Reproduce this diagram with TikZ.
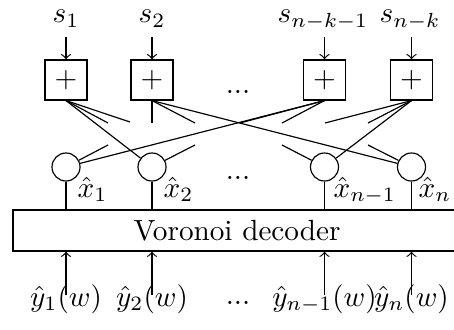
\documentclass[tikz,border=0pt]{standalone}
\begin{document}
\begin{tikzpicture}[x=0.3425pt,y=-0.3425pt,
  sumbox/.style={draw, minimum width=14.4pt, minimum height=13.7pt, inner sep=0pt},
  varnode/.style={draw, circle, minimum size=9.6pt, inner sep=0pt},
  decbox/.style={draw, minimum width=153.4pt, minimum height=14pt, inner sep=0pt},
  lab/.style={inner sep=0pt, anchor=base},
  xlab/.style={inner sep=0pt, anchor=base west},
  edge/.style={draw}]
\useasboundingbox (0,0) rectangle (454,329);

% check boxes
\node[sumbox] (b1) at (66,80) {$+$};
\node[sumbox] (b2) at (152,80) {$+$};
\node[sumbox] (b3) at (324.5,80) {$+$};
\node[sumbox] (b4) at (411.5,80) {$+$};
\node[lab] (dtop) at (238,93) {...};

% variable nodes
\node[varnode] (c1) at (66,167) {};
\node[varnode] (c2) at (152,167) {};
\node[varnode] (c3) at (324.5,167) {};
\node[varnode] (c4) at (411.5,167) {};
\node[lab] (dmid) at (238,179) {...};

% decoder
\node[decbox] (dec) at (237,230.5) {Voronoi decoder};

% top labels and arrows
\node[lab] (s1) at (66,23) {$s_1$};
\node[lab] (s2) at (152,23) {$s_2$};
\node[lab] (s3) at (323,23) {$s_{n-k-1}$};
\node[lab] (s4) at (410,23) {$s_{n-k}$};
\coordinate (t1) at (66,37);
\coordinate (t2) at (152,37);
\coordinate (t3) at (324.5,37);
\coordinate (t4) at (411.5,37);
\draw[->] (t1) -- (b1.north);
\draw[->] (t2) -- (b2.north);
\draw[->] (t3) -- (b3.north);
\draw[->] (t4) -- (b4.north);

% full edges
\draw (b1.south) -- (c2);
\draw (b2.south) -- (c4);
\draw (b3.south) -- (c1);
\draw (b4.south) -- (c3);

% stubs from boxes
\coordinate (p11) at (108,123);
\coordinate (p12) at (130,122);
\coordinate (p21) at (152,123);
\coordinate (p22) at (195,123);
\coordinate (p31) at (240,123);
\coordinate (p32) at (282,123);
\coordinate (p41) at (325,123);
\coordinate (p42) at (368,123);
\draw (b1.south) -- (p11);
\draw (b1.south) -- (p12);
\draw (b2.south) -- (p21);
\draw (b2.south) -- (p22);
\draw (b3.south) -- (p31);
\draw (b3.south) -- (p32);
\draw (b4.south) -- (p41);
\draw (b4.south) -- (p42);

% stubs from circles
\coordinate (q1) at (108,145);
\coordinate (q2) at (195,145);
\coordinate (q3) at (282,145);
\coordinate (q4) at (368,145);
\draw (c1) -- (q1);
\draw (c2) -- (q2);
\draw (c3) -- (q3);
\draw (c4) -- (q4);

% circles to decoder
\draw (c1.south) -- (c1.south |- dec.north);
\draw (c2.south) -- (c2.south |- dec.north);
\draw (c3.south) -- (c3.south |- dec.north);
\draw (c4.south) -- (c4.south |- dec.north);
\node[xlab] (x1) at (77,197) {$\hat{x}_1$};
\node[xlab] (x2) at (163,197) {$\hat{x}_2$};
\node[xlab] (x3) at (333,197) {$\hat{x}_{n-1}$};
\node[xlab] (x4) at (418,197) {$\hat{x}_n$};

% bottom labels and arrows
\node[lab] (y1) at (66,306) {$\hat{y}_1(w)$};
\node[lab] (y2) at (152,306) {$\hat{y}_2(w)$};
\node[lab] (dbot) at (238,304) {...};
\node[lab] (y3) at (324.5,306) {$\hat{y}_{n-1}(w)$};
\node[lab] (y4) at (411.5,306) {$\hat{y}_n(w)$};
\coordinate (u1) at (66,295);
\coordinate (u2) at (152,295);
\coordinate (u3) at (324.5,295);
\coordinate (u4) at (411.5,295);
\draw[->] (u1) -- (u1 |- dec.south);
\draw[->] (u2) -- (u2 |- dec.south);
\draw[->] (u3) -- (u3 |- dec.south);
\draw[->] (u4) -- (u4 |- dec.south);
\end{tikzpicture}
\end{document}
